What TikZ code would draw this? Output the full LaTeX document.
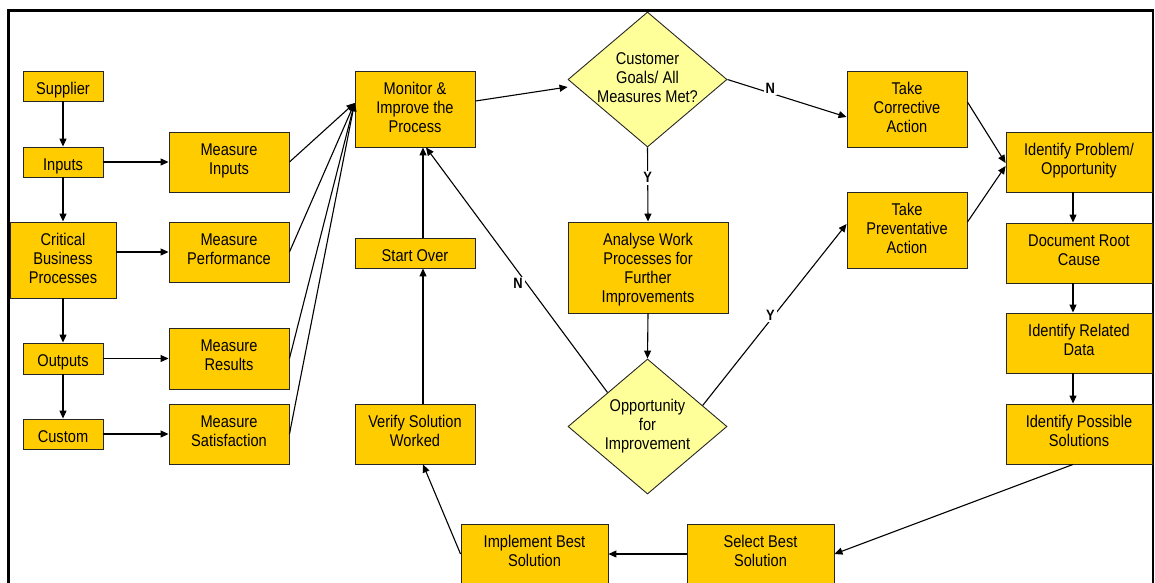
\documentclass[tikz,border=0pt]{standalone}
\usepackage{fontspec}
\setmainfont{Liberation Sans}[FakeStretch=0.86]
\usetikzlibrary{shapes.geometric,arrows.meta,calc}
\definecolor{boxgold}{HTML}{FFCC00}
\definecolor{diafill}{HTML}{FFFF99}
% struts that hang the text from the top of its box
\newcommand\tbtop{\rule{0pt}{23.5pt}}
\newcommand\tbbot[1]{\rule[-#1pt]{0pt}{#1pt}}
\begin{document}
\begin{tikzpicture}[x=1pt,y=-1pt,
  font=\fontsize{17}{19}\selectfont,
  wh/.style 2 args={minimum width=#1pt, minimum height=#2pt},
  box/.style={draw=black!85, fill=boxgold, line width=0.9pt, align=center, inner sep=0pt},
  dia/.style={diamond, draw=black!85, fill=diafill, line width=0.9pt, inner sep=0pt,
              minimum width=159pt, minimum height=135pt},
  txt/.style={align=center, inner sep=0pt},
  flow/.style={line width=1.1pt, -{Triangle[length=8pt,width=7pt]}},
  yn/.style={fill=white, font=\fontsize{15}{17}\selectfont\bfseries, inner sep=2pt}]
\useasboundingbox (0,0) rectangle (1155,582);
\clip (0,0) rectangle (1155,582);

% frame
\draw[line width=3pt] (7,10.5) -- (1153.5,10.5);
\draw[line width=3pt] (8.5,9) -- (8.5,590);
\draw[line width=1.2pt] (1153,10) -- (1153,590);

% left column: supply chain
\node[box, wh={80}{30}]  (sup) at (63,86)    {\tbtop Supplier\tbbot{6}};
\node[box, wh={80}{30}]  (inp) at (63,162)   {\tbtop Inputs\tbbot{6}};
\node[box, wh={106}{76}] (cbp) at (63,260)   {\tbtop Critical\\Business\\Processes\tbbot{14}};
\node[box, wh={80}{31}]  (out) at (63,358.5) {\tbtop Outputs\tbbot{7}};
\node[box, wh={80}{30}]  (cus) at (63,434)   {\tbtop Custom\tbbot{6}};

% measurements
\node[box, wh={120}{60}] (mi) at (229,162)   {\tbtop Measure\\Inputs\tbbot{17}};
\node[box, wh={120}{60}] (mp) at (229,252)   {\tbtop Measure\\Performance\tbbot{17}};
\node[box, wh={120}{61}] (mr) at (229,358.5) {\tbtop Measure\\Results\tbbot{18}};
\node[box, wh={120}{60}] (ms) at (229,434)   {\tbtop Measure\\Satisfaction\tbbot{17}};

% improvement loop
\node[box, wh={120}{76}] (mon) at (415,109) {\tbtop Monitor \&\\Improve the\\Process\tbbot{14}};
\node[box, wh={120}{30}] (so)  at (415,253) {\tbtop Start Over\tbbot{6}};
\node[box, wh={120}{60}] (vs)  at (415,434) {\tbtop Verify Solution\\Worked\tbbot{17}};

\node[dia] (d1) at (647.5,79.5) {};
\node[txt] (d1t) at (647.5,77.5) {Customer\\Goals/ All\\Measures Met?};
\node[box, wh={160}{91}] (an) at (648,267.5) {\tbtop Analyse Work\\Processes for\\Further\\Improvements\tbbot{10}};
\node[dia] (d2) at (647.5,426.5) {};
\node[txt] (d2t) at (647.5,426.5) {Opportunity\\for\\Improvement};

\node[box, wh={120}{76}] (tc) at (907,109) {\tbtop Take\\Corrective\\Action\tbbot{14}};
\node[box, wh={120}{76}] (tp) at (907,230) {\tbtop Take\\Preventative\\Action\tbbot{14}};

% problem solving column
\node[box, wh={146}{60}] (ip)  at (1079,162) {\tbtop Identify Problem/\\Opportunity\tbbot{17}};
\node[box, wh={146}{60}] (dr)  at (1079,253) {\tbtop Document Root\\Cause\tbbot{17}};
\node[box, wh={146}{60}] (ir)  at (1079,343) {\tbtop Identify Related\\Data\tbbot{17}};
\node[box, wh={146}{60}] (ips) at (1079,434) {\tbtop Identify Possible\\Solutions\tbbot{17}};
\node[box, wh={147}{60}] (sb)  at (760.5,554) {\tbtop Select Best\\Solution\tbbot{17}};
\node[box, wh={147}{60}] (ib)  at (534.5,554) {\tbtop Implement Best\\Solution\tbbot{17}};

% connectors
\draw[flow] (sup) -- (inp);
\draw[flow] (inp) -- (cbp);
\draw[flow] (cbp) -- (out);
\draw[flow] (out) -- (cus);
\draw[flow] (inp) -- (mi);
\draw[flow] (cbp.east |- mp) -- (mp);
\draw[flow] (out) -- (mr);
\draw[flow] (cus) -- (ms);

\coordinate (monin) at ([yshift=6pt]mon.west);
\draw[flow] (mi.east) -- (monin);
\draw[flow] (mp.east) -- (monin);
\draw[flow] (mr.east) -- (monin);
\draw[flow] (ms.east) -- (monin);

\coordinate (d1in) at ([yshift=-7.5pt]d1.west);
\draw[flow] ([yshift=8pt]mon.east) -- (d1in);
\draw[flow] (d1.east) -- node[yn, pos=0.36, yshift=5pt] {N} ([yshift=-8pt]tc.west);
\draw[flow] (d1.south) -- node[yn, pos=0.41] {Y} (an.north);
\draw[flow] (an.south) -- (d2.north);
\draw[flow] (d2.north west) -- node[yn, pos=0.46, xshift=-6pt, yshift=-4pt] {N} ([xshift=11pt]mon.south);
\draw[flow] ($(d2.north)!0.69!(d2.east)$) -- node[yn, pos=0.47, yshift=5pt] {Y} ([yshift=6pt]tp.west);

\draw[flow] ([yshift=7pt]tc.east) -- ([yshift=-1pt]ip.west);
\draw[flow] ([yshift=8pt]tp.east) -- ([yshift=-4pt]ip.west);

\draw[flow] ([xshift=-6pt]ip.south) -- ([xshift=-6pt]dr.north);
\draw[flow] ([xshift=-6pt]dr.south) -- ([xshift=-6pt]ir.north);
\draw[flow] ([xshift=-6pt]ir.south) -- ([xshift=-6pt]ips.north);
\draw[flow] ([xshift=-6pt]ips.south) -- (sb.east);
\draw[flow] (sb.west) -- (ib.east);
\draw[flow] (ib.west) -- ([xshift=8pt]vs.south);
\draw[flow] ([xshift=8pt]vs.north) -- ([xshift=8pt]so.south);
\draw[flow] ([xshift=8pt]so.north) -- ([xshift=8pt]mon.south);
\end{tikzpicture}
\end{document}
